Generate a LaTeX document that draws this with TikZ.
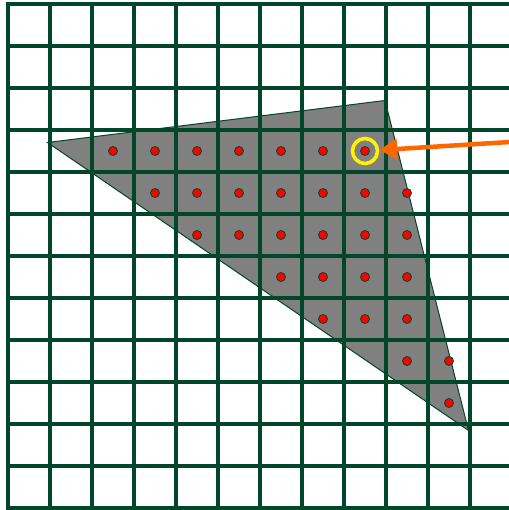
\documentclass[tikz,border=0pt]{standalone}
\usetikzlibrary{arrows.meta}
\definecolor{gridgreen}{RGB}{0,70,42}
\definecolor{arroworange}{RGB}{255,102,0}
\begin{document}
\begin{tikzpicture}[x=1pt,y=-1pt,
  gridline/.style={draw=gridgreen,line width=4pt},
  sample/.style={circle,fill=red,draw=gridgreen,line width=0.8pt,minimum size=9pt,inner sep=0pt},
  pick/.style={circle,draw=yellow,line width=3.6pt,minimum size=25pt,inner sep=0pt},
  pointer/.style={draw=arroworange,line width=4.5pt,-{Triangle[length=18pt,width=20pt]}}]
\useasboundingbox (0,0) rectangle (508,510);
% triangle
\filldraw[fill=gray,draw=gridgreen,line width=1pt] (47.5,142.5) -- (385,100.5) -- (468.5,430.5) -- cycle;
% grid
\foreach \k in {0,...,11} {\draw[gridline] (8+42*\k,2) -- (8+42*\k,510);}
\foreach \j in {0,...,12} {\draw[gridline] (6,4+42*\j) -- (510,4+42*\j);}
% samples
\foreach \j/\a/\b in {3/2/8,4/3/9,5/4/9,6/6/9,7/7/9,8/9/10,9/10/10} {
  \foreach \k in {\a,...,\b} {\node[sample] (s\j-\k) at (29+42*\k,25+42*\j) {};}
}
\node[pick] (p) at (s3-8) {};
\coordinate (tail) at (510,142);
\draw[pointer] (tail) -- (p);
\end{tikzpicture}
\end{document}
